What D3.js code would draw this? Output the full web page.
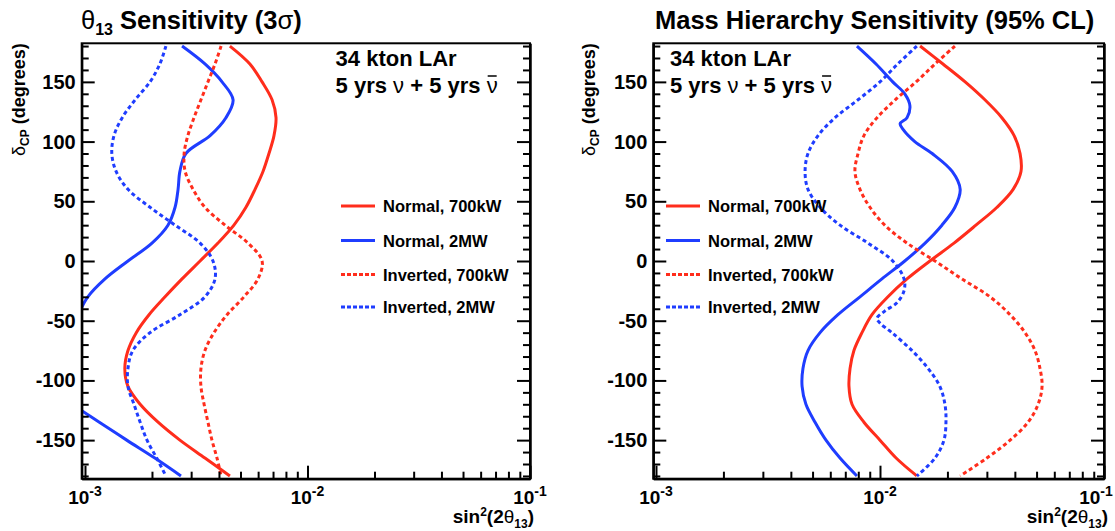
<!DOCTYPE html>
<html><head><meta charset="utf-8">
<script src="https://cdn.jsdelivr.net/npm/d3@7"></script>
<style>
body{margin:0;background:#fff}
svg{display:block}
text{font-family:"Liberation Sans",Arial,Helvetica,sans-serif;font-weight:bold;fill:#000}
.g{font-weight:normal}
</style>
</head><body>
<svg id="c" width="1115" height="531"></svg>
<script>
// ---------------- DATA ----------------
const deltaGrid = [180,165,150,135,120,105,90,75,60,45,30,15,0,-15,-30,-45,-60,-75,-90,-105,-120,-135,-150,-165,-180];

// Left panel: theta13 sensitivity (3 sigma), sin^2(2theta13) values
const th13Normal700 = [4.48e-3,5.51e-3,6.25e-3,6.93e-3,7.22e-3,7.07e-3,6.71e-3,6.31e-3,5.81e-3,5.29e-3,4.67e-3,3.96e-3,3.29e-3,2.73e-3,2.29e-3,1.94e-3,1.70e-3,1.56e-3,1.51e-3,1.56e-3,1.77e-3,2.13e-3,2.67e-3,3.46e-3,4.48e-3];
const th13Inverted700 = [4.09e-3,3.84e-3,3.57e-3,3.32e-3,3.09e-3,2.90e-3,2.79e-3,2.82e-3,3.06e-3,3.46e-3,4.26e-3,5.40e-3,6.25e-3,5.99e-3,5.18e-3,4.35e-3,3.80e-3,3.46e-3,3.32e-3,3.32e-3,3.43e-3,3.57e-3,3.72e-3,3.92e-3,4.09e-3];
const th13Inverted2MW = [2.31e-3,2.17e-3,1.96e-3,1.68e-3,1.47e-3,1.35e-3,1.32e-3,1.38e-3,1.56e-3,1.96e-3,2.54e-3,3.29e-3,3.76e-3,3.84e-3,3.46e-3,2.67e-3,1.96e-3,1.64e-3,1.56e-3,1.56e-3,1.66e-3,1.77e-3,1.90e-3,2.10e-3,2.31e-3];
const th13Normal2MWDelta = [180,165,150,135,120,105,90,75,60,45,30,15,0,-15,-30,-40,-80,-125,-135,-150,-165,-180];
const th13Normal2MW = [2.73e-3,3.46e-3,4.13e-3,4.63e-3,4.30e-3,3.65e-3,2.84e-3,2.67e-3,2.62e-3,2.54e-3,2.36e-3,2.00e-3,1.56e-3,1.23e-3,1.03e-3,0.96e-3,null,0.96e-3,1.16e-3,1.54e-3,2.06e-3,2.70e-3];

// Right panel: mass hierarchy sensitivity (95% CL)
const mhNormal700 = [1.51e-2,1.91e-2,2.40e-2,2.94e-2,3.50e-2,3.97e-2,4.22e-2,4.26e-2,3.93e-2,3.33e-2,2.68e-2,2.14e-2,1.67e-2,1.32e-2,1.085e-2,0.921e-2,0.831e-2,0.765e-2,0.735e-2,0.727e-2,0.750e-2,0.848e-2,1.00e-2,1.18e-2,1.46e-2];
const mhInverted700 = [2.16e-2,1.76e-2,1.45e-2,1.17e-2,0.970e-2,0.848e-2,0.798e-2,0.773e-2,0.814e-2,0.902e-2,1.05e-2,1.32e-2,1.76e-2,2.32e-2,3.10e-2,3.81e-2,4.44e-2,4.92e-2,5.18e-2,5.29e-2,5.08e-2,4.58e-2,3.81e-2,3.00e-2,2.28e-2];
const mhNormal2MWDelta = [180,165,150,140,130,120,115,110,100,90,75,60,45,30,15,0,-15,-30,-45,-60,-75,-90,-105,-120,-135,-150,-165,-180];
const mhNormal2MW = [0.789e-2,0.960e-2,1.14e-2,1.29e-2,1.36e-2,1.32e-2,1.23e-2,1.27e-2,1.43e-2,1.71e-2,2.10e-2,2.28e-2,2.16e-2,1.89e-2,1.59e-2,1.29e-2,1.02e-2,0.814e-2,0.649e-2,0.540e-2,0.477e-2,0.453e-2,0.449e-2,0.467e-2,0.513e-2,0.574e-2,0.663e-2,0.789e-2];
const mhInverted2MWDelta = [180,165,150,135,120,105,90,75,60,45,30,15,0,-15,-25,-35,-42,-48,-52,-60,-75,-90,-105,-120,-135,-150,-165,-180];
const mhInverted2MW = [1.46e-2,1.20e-2,1.00e-2,0.798e-2,0.630e-2,0.529e-2,0.477e-2,0.463e-2,0.477e-2,0.540e-2,0.663e-2,0.884e-2,1.14e-2,1.28e-2,1.28e-2,1.19e-2,1.05e-2,0.970e-2,1.00e-2,1.13e-2,1.39e-2,1.64e-2,1.85e-2,1.95e-2,1.97e-2,1.93e-2,1.76e-2,1.46e-2];

const legendLabels = ["Normal, 700kW","Normal, 2MW","Inverted, 700kW","Inverted, 2MW"];
const yMajorTicks = [-150,-100,-50,0,50,100,150];
const xMajorTicks = [1e-3,1e-2,1e-1];

// ---------------- DRAW ----------------
const RED = "#ff2d1c", BLUE = "#1f3dff";
const svg = d3.select("#c");
const TOP = 43.3, BOT = 478.7, W = 1115;
const yS = d3.scaleLinear().domain([-182.3, 182.3]).range([BOT, TOP]);

function drawPanel(cfg){
  const x = d3.scaleLog().domain([cfg.xmin, 0.1]).range([cfg.left, cfg.right]);
  const g = svg.append("g");
  const cid = "clip" + cfg.id;
  svg.append("clipPath").attr("id", cid).append("rect")
    .attr("x", cfg.left).attr("y", TOP).attr("width", cfg.right - cfg.left).attr("height", BOT - TOP);

  // curves
  const line = d3.line().defined(p => p.v != null).x(p => x(p.v)).y(p => yS(p.d)).curve(d3.curveCatmullRom.alpha(0.5));
  cfg.series.forEach(s => {
    const pts = s.delta.map((d, i) => ({d: d, v: s.values[i]}));
    g.append("path").datum(pts).attr("d", line).attr("clip-path", `url(#${cid})`)
      .attr("fill", "none").attr("stroke", s.color).attr("stroke-width", 3)
      .attr("stroke-dasharray", s.dotted ? "4,3" : null);
  });

  // axes
  const axStyle = sel => { sel.selectAll("path,line").attr("stroke", "#000").attr("stroke-width", 2); sel.selectAll("text").remove(); };
  const minorY = d3.range(-180, 181, 10).filter(v => v % 50 !== 0);
  g.append("g").attr("transform", `translate(${cfg.left},0)`)
    .call(d3.axisLeft(yS).tickValues(yMajorTicks).tickSize(-13).tickSizeOuter(0).tickFormat("")).call(axStyle);
  g.append("g").attr("transform", `translate(${cfg.left},0)`)
    .call(d3.axisLeft(yS).tickValues(minorY).tickSize(-7).tickSizeOuter(0).tickFormat("")).call(axStyle);
  g.append("g").attr("transform", `translate(${cfg.right},0)`)
    .call(d3.axisRight(yS).tickValues(yMajorTicks).tickSize(-13).tickSizeOuter(0).tickFormat("")).call(axStyle);
  g.append("g").attr("transform", `translate(${cfg.right},0)`)
    .call(d3.axisRight(yS).tickValues(minorY).tickSize(-7).tickSizeOuter(0).tickFormat("")).call(axStyle);
  const allX = x.ticks();
  const minorX = allX.filter(v => !xMajorTicks.some(m => Math.abs(m - v) / m < 1e-6));
  g.append("g").attr("transform", `translate(0,${BOT})`)
    .call(d3.axisBottom(x).tickValues(xMajorTicks).tickSize(-13).tickSizeOuter(0).tickFormat("")).call(axStyle);
  g.append("g").attr("transform", `translate(0,${BOT})`)
    .call(d3.axisBottom(x).tickValues(minorX).tickSize(-7).tickSizeOuter(0).tickFormat("")).call(axStyle);

  // frame
  g.append("rect").attr("x", cfg.left).attr("y", TOP).attr("width", cfg.right - cfg.left).attr("height", BOT - TOP)
    .attr("fill", "none").attr("stroke", "#000").attr("stroke-width", 2);

  // y tick labels
  yMajorTicks.forEach(v => {
    g.append("text").attr("x", cfg.left - 6).attr("y", yS(v) + 7).attr("text-anchor", "end")
      .style("font-size", "20px").text(String(v));
  });
  // x tick labels
  xMajorTicks.forEach(v => {
    const t = g.append("text").attr("x", x(v)).attr("y", 504).attr("text-anchor", "middle").style("font-size", "19px");
    t.append("tspan").text("10");
    t.append("tspan").attr("dy", -8).style("font-size", "14px").text(String(Math.round(Math.log10(v))));
    const bb = t.node().getBBox();
    if (bb.x + bb.width > W - 2) t.attr("x", x(v) - (bb.x + bb.width - (W - 2)));
  });
  // x title
  const xt = g.append("text").attr("x", cfg.right + 4).attr("y", 523).attr("text-anchor", "end").style("font-size", "19px");
  xt.append("tspan").text("sin");
  xt.append("tspan").attr("dy", -7).style("font-size", "12px").text("2");
  xt.append("tspan").attr("dy", 7).text("(2");
  xt.append("tspan").attr("class", "g").text("θ");
  xt.append("tspan").attr("dy", 5).style("font-size", "12px").text("13");
  xt.append("tspan").attr("dy", -5).text(")");
  // y title
  const yt = g.append("text").attr("transform", `translate(${cfg.ylabX},${TOP}) rotate(-90)`)
    .attr("text-anchor", "end").style("font-size", "18px");
  yt.append("tspan").attr("class", "g").text("δ");
  yt.append("tspan").attr("dy", 4).style("font-size", "12px").text("CP");
  yt.append("tspan").attr("dy", -4).text(" (degrees)");

  // info text
  g.append("text").attr("x", cfg.infoX).attr("y", 66).style("font-size", "22px").text("34 kton LAr");
  const t2 = g.append("text").attr("x", cfg.infoX).attr("y", 93).style("font-size", "22px");
  t2.append("tspan").text("5 yrs ");
  t2.append("tspan").attr("class", "g").text("ν");
  t2.append("tspan").text(" + 5 yrs ");
  t2.append("tspan").attr("class", "g").text("ν");
  const node = t2.node();
  const n = node.getNumberOfChars() - 1;
  const ext = node.getExtentOfChar(n);
  g.append("line").attr("x1", ext.x + 1).attr("x2", ext.x + ext.width - 1)
    .attr("y1", 93 - 17).attr("y2", 93 - 17).attr("stroke", "#000").attr("stroke-width", 1.5);

  // legend
  const rows = [206, 240.5, 274.5, 307];
  cfg.series.forEach((s, i) => {
    g.append("line").attr("x1", cfg.legX).attr("x2", cfg.legX + 34).attr("y1", rows[i]).attr("y2", rows[i])
      .attr("stroke", s.color).attr("stroke-width", 3).attr("stroke-dasharray", s.dotted ? "4,2" : null);
    g.append("text").attr("x", cfg.legX + 42).attr("y", rows[i] + 6).style("font-size", "16.5px").text(legendLabels[i]);
  });

  // title
  cfg.title(svg.append("text").attr("x", cfg.titleX).attr("y", 28.5).style("font-size", "25.5px"));
}

drawPanel({
  id: "L", left: 81.7, right: 530, xmin: Math.pow(10, -3.0148),
  ylabX: 25, infoX: 335.6, legX: 341, titleX: 81,
  series: [
    {delta: deltaGrid, values: th13Normal700, color: RED, dotted: false},
    {delta: th13Normal2MWDelta, values: th13Normal2MW, color: BLUE, dotted: false},
    {delta: deltaGrid, values: th13Inverted700, color: RED, dotted: true},
    {delta: deltaGrid, values: th13Inverted2MW, color: BLUE, dotted: true}
  ],
  title: t => {
    t.append("tspan").attr("class", "g").text("θ");
    t.append("tspan").attr("dy", 6).style("font-size", "16px").text("13");
    t.append("tspan").attr("dy", -6).text(" Sensitivity (3");
    t.append("tspan").attr("class", "g").text("σ");
    t.append("tspan").text(")");
  }
});
drawPanel({
  id: "R", left: 653.3, right: 1104, xmin: Math.pow(10, -3.012),
  ylabX: 595, infoX: 670, legX: 666, titleX: 655,
  series: [
    {delta: deltaGrid, values: mhNormal700, color: RED, dotted: false},
    {delta: mhNormal2MWDelta, values: mhNormal2MW, color: BLUE, dotted: false},
    {delta: deltaGrid, values: mhInverted700, color: RED, dotted: true},
    {delta: mhInverted2MWDelta, values: mhInverted2MW, color: BLUE, dotted: true}
  ],
  title: t => t.text("Mass Hierarchy Sensitivity (95% CL)")
});
</script>
</body></html>
